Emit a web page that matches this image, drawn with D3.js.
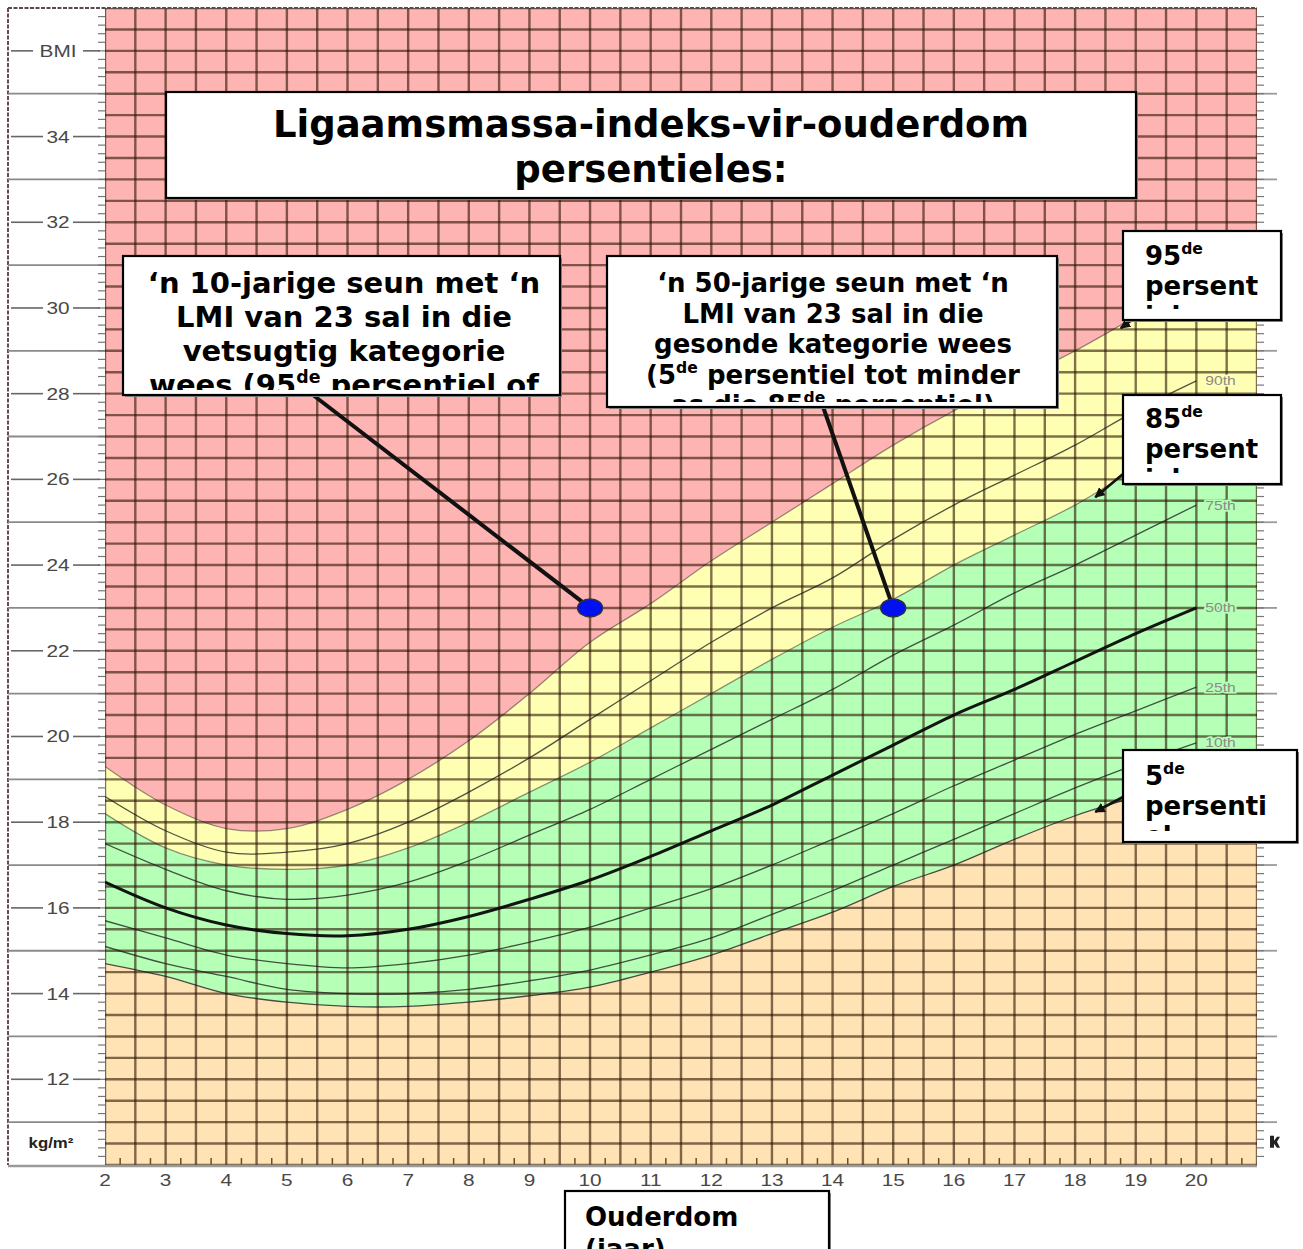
<!DOCTYPE html>
<html><head><meta charset="utf-8">
<script src="https://cdn.jsdelivr.net/npm/d3@7"></script>
<style>body{margin:0;background:#fff}svg{display:block}</style>
</head><body>
<svg id="c" width="1303" height="1249"></svg>
<script>
// ---- data (boys BMI-for-age percentiles) ----
const ages = [2,3,4,5,6,7,8,9,10,11,12,13,14,15,16,17,18,19,20];
const p5  = [14.7,14.4,14.0,13.8,13.7,13.7,13.8,13.95,14.15,14.5,14.9,15.4,15.9,16.5,17.0,17.6,18.15,18.6,19.1];
const p10 = [15.1,14.7,14.4,14.1,14.0,14.0,14.1,14.3,14.55,14.9,15.3,15.85,16.4,17.0,17.6,18.2,18.8,19.35,19.85];
const p25 = [15.7,15.3,14.9,14.7,14.6,14.7,14.9,15.2,15.55,16.0,16.45,17.0,17.6,18.2,18.85,19.45,20.05,20.6,21.15];
const p50 = [16.6,16.0,15.6,15.4,15.35,15.5,15.8,16.2,16.65,17.2,17.8,18.4,19.1,19.8,20.5,21.1,21.75,22.4,23.0];
const p75 = [17.5,16.9,16.4,16.2,16.3,16.6,17.1,17.7,18.3,19.0,19.7,20.4,21.1,21.9,22.6,23.35,24.0,24.7,25.4];
const p85 = [18.2,17.4,17.0,16.9,17.0,17.4,18.0,18.7,19.4,20.2,21.0,21.8,22.55,23.2,24.0,24.7,25.4,26.25,27.0];
const p90 = [18.6,17.8,17.3,17.3,17.5,18.0,18.7,19.5,20.4,21.3,22.2,23.0,23.7,24.6,25.4,26.1,26.8,27.6,28.3];
const p95 = [19.3,18.4,17.85,17.85,18.3,19.0,19.9,21.0,22.2,23.1,24.1,25.0,25.9,26.8,27.6,28.3,29.0,29.8,30.6];
const percentileNames = ["5th","10th","25th","50th","75th","85th","90th","95th"];
const visibleCurveLabels = ["10th","25th","50th","75th","90th"];
const ageTicks = [2,3,4,5,6,7,8,9,10,11,12,13,14,15,16,17,18,19,20];
const bmiTicks = [12,14,16,18,20,22,24,26,28,30,32,34];
const bmiOddLines = [11,13,15,17,19,21,23,25,27,29,31,33,35];
const examplePoints = [{age:10,bmi:23},{age:15,bmi:23}];
const titleLines = ["Ligaamsmassa-indeks-vir-ouderdom","persentieles:"];
const note1Lines = ["\u2018n 10-jarige seun met \u2018n","LMI van 23 sal in die","vetsugtig kategorie","wees (95^de^ persentiel of"];
const note2Lines = ["\u2018n 50-jarige seun met \u2018n","LMI van 23 sal in die","gesonde kategorie wees","(5^de^ persentiel tot minder","as die 85^de^ persentiel)"];
const label95 = ["95^de^","persent","iel"];
const label85 = ["85^de^","persent","iel"];
const label5  = ["5^de^","persenti","el"];
const xAxisTitle = ["Ouderdom","(jaar)"];

// ---- setup ----
const svg = d3.select("#c");
const x = d3.scaleLinear().domain([2,21]).range([105,1257]);
const y = d3.scaleLinear().domain([10,37]).range([1165,8]);
const defs = svg.append("defs");
defs.append("clipPath").attr("id","plotClip").append("rect")
  .attr("x",x(2)).attr("y",y(37)).attr("width",x(21)-x(2)).attr("height",y(10)-y(37));
defs.append("marker").attr("id","arr").attr("viewBox","0 0 10 10").attr("refX",9).attr("refY",5)
  .attr("markerWidth",4).attr("markerHeight",4).attr("orient","auto")
  .append("path").attr("d","M0,0L10,5L0,10z").attr("fill","#111");

const seriesVals = [p5,p10,p25,p50,p75,p85,p90,p95];
const series = percentileNames.map((n,i)=>({name:n, values:seriesVals[i]}));
function interp(vals, a){
  const i = Math.min(ages.length-2, Math.max(0, d3.bisectRight(ages,a)-1));
  const t = (a-ages[i])/(ages[i+1]-ages[i]);
  return vals[i]+(vals[i+1]-vals[i])*t;
}
const extAges = ages.concat([21]);
const ext = v => v.concat([v[v.length-1]]);
const curve = d3.curveCatmullRom.alpha(0.5);

const plot = svg.append("g").attr("clip-path","url(#plotClip)");
const C = {red:"#ffb4b4", yellow:"#ffffb4", green:"#b6ffb6", peach:"#ffe3b4"};
plot.append("rect").attr("x",x(2)).attr("y",y(37)).attr("width",x(21)-x(2)).attr("height",y(10)-y(37)).attr("fill",C.red);
function band(lo, hi, color){
  const data = extAges.map((a,i)=>({a, lo: lo ? ext(lo)[i] : 10, hi: ext(hi)[i]}));
  plot.append("path").datum(data).attr("fill",color)
    .attr("d", d3.area().curve(curve).x(d=>x(d.a)).y0(d=>y(d.lo)).y1(d=>y(d.hi)));
}
band(p85,p95,C.yellow);
band(p5,p85,C.green);
band(null,p5,C.peach);

// grid
const grid = plot.append("g").attr("stroke","#2a1200").attr("stroke-opacity",0.6).attr("stroke-width",2.4);
grid.selectAll("line.v").data(d3.range(2,21.01,0.5)).join("line")
  .attr("x1",d=>x(d)).attr("x2",d=>x(d)).attr("y1",y(37)).attr("y2",y(10));
grid.selectAll("line.h").data(d3.range(10,37.01,0.5)).join("line")
  .attr("x1",x(2)).attr("x2",x(21)).attr("y1",d=>y(d)).attr("y2",d=>y(d));
plot.append("g").attr("stroke","#6a5020").attr("stroke-width",1.5)
  .selectAll("line").data(d3.range(2.25,21,0.5)).join("line")
  .attr("x1",d=>x(d)).attr("x2",d=>x(d)).attr("y1",y(10)-7).attr("y2",y(10));

// percentile lines
const line = d3.line().curve(curve).x((d,i)=>x(ages[i])).y(d=>y(d));
series.forEach(s=>{
  const main = s.name==="50th", soft = (s.name==="95th"||s.name==="85th");
  plot.append("path").datum(s.values).attr("fill","none")
    .attr("stroke", main? "#0a0a0a" : "#1a1a1a")
    .attr("stroke-opacity", main?0.95:(soft?0.45:0.75))
    .attr("stroke-width", main?3:1.3)
    .attr("d", line);
});
// percentile labels (the 95th, 85th and 5th labels are covered by the callouts)
const lab = svg.append("g").attr("font-family","Liberation Sans, Arial, sans-serif").attr("font-size",12.5).attr("fill","#8a8a8a");
series.filter(s=>visibleCurveLabels.includes(s.name)).forEach(s=>{
  const v = s.values[s.values.length-1];
  const bg = s.name==="90th" ? C.yellow : C.green;
  lab.append("text").attr("transform",`translate(${x(20)+9},${y(v)+4.5}) scale(1.25,1)`)
    .attr("paint-order","stroke").attr("stroke",bg).attr("stroke-width",3).text(s.name);
});

// ---- frame & margins ----
const frame = svg.append("g");
frame.append("line").attr("x1",8).attr("x2",x(21)).attr("y1",y(37)).attr("y2",y(37)).attr("stroke","#5a4a4a").attr("stroke-width",2).attr("stroke-dasharray","4,1.5");
frame.append("line").attr("x1",8).attr("x2",8).attr("y1",y(37)).attr("y2",y(10)).attr("stroke","#6a4a4a").attr("stroke-width",2).attr("stroke-dasharray","4,1.5");
frame.append("line").attr("x1",8).attr("x2",x(21)).attr("y1",y(10)+1).attr("y2",y(10)+1).attr("stroke","#9a9a9a").attr("stroke-width",2.5);
frame.selectAll("line.odd").data(bmiOddLines).join("line").attr("class","odd")
  .attr("x1",8).attr("x2",x(2)).attr("y1",d=>y(d)).attr("y2",d=>y(d)).attr("stroke","#8a8a8a").attr("stroke-width",1.8);
frame.selectAll("line.oddr").data(bmiOddLines).join("line").attr("class","oddr")
  .attr("x1",x(21)).attr("x2",x(21)+20).attr("y1",d=>y(d)).attr("y2",d=>y(d)).attr("stroke","#9a9a9a").attr("stroke-width",1.8);
const minor = d3.range(10.2,37,0.2);
frame.append("g").attr("stroke","#777").attr("stroke-width",1.2).selectAll("line").data(minor).join("line")
  .attr("x1",x(2)-7).attr("x2",x(2)).attr("y1",d=>y(d)).attr("y2",d=>y(d));
frame.append("g").attr("stroke","#777").attr("stroke-width",1.2).selectAll("line").data(minor).join("line")
  .attr("x1",x(21)).attr("x2",x(21)+7).attr("y1",d=>y(d)).attr("y2",d=>y(d));
const yl = frame.append("g");
const yLabelData = bmiTicks.map(v=>({v, t:String(v)})).concat([{v:36,t:"BMI"}]);
yl.selectAll("g").data(yLabelData).join("g").each(function(d){
  const g = d3.select(this);
  const w = d.t.length>2 ? 25 : 15;
  g.append("line").attr("x1",11).attr("x2",58-w).attr("y1",y(d.v)).attr("y2",y(d.v)).attr("stroke","#666").attr("stroke-width",1.6);
  g.append("line").attr("x1",58+w).attr("x2",100).attr("y1",y(d.v)).attr("y2",y(d.v)).attr("stroke","#666").attr("stroke-width",1.6);
  g.append("text").attr("transform",`translate(58,${y(d.v)+6}) scale(1.3,1)`).attr("text-anchor","middle")
    .attr("font-family","Liberation Sans, Arial, sans-serif").attr("font-size",16).attr("fill","#484848").text(d.t);
});
frame.append("text").attr("transform",`translate(51,${y(10.4)}) scale(1.2,1)`).attr("text-anchor","middle")
  .attr("font-family","Liberation Sans, Arial, sans-serif").attr("font-weight","bold").attr("font-size",14).attr("fill","#222").text("kg/m\u00b2");
frame.append("path").attr("d",`M1270,${y(10.4)-12}h4v5l3,-4h3l-3,5l3,6h-3l-3,-4v4h-4z`).attr("fill","#222");
frame.selectAll("text.xl").data(ageTicks).join("text").attr("class","xl")
  .attr("transform",d=>`translate(${x(d)},${y(10)+21}) scale(1.3,1)`).attr("text-anchor","middle")
  .attr("font-family","Liberation Sans, Arial, sans-serif").attr("font-size",16).attr("fill","#484848").text(d=>d);

// ---- annotations ----
const ann = svg.append("g").attr("font-family","DejaVu Sans, sans-serif").attr("font-weight","bold").attr("fill","#000");
let clipN = 0;
function rich(g, str, tx, ty, fs, anchor){
  const t = g.append("text").attr("x",tx).attr("y",ty).attr("font-size",fs).attr("text-anchor",anchor);
  const parts = str.split("^");
  let shifted = false;
  parts.forEach((p,i)=>{
    if(!p) return;
    const sp = t.append("tspan").text(p);
    if(i%2===1){ sp.attr("font-size",fs*0.6).attr("dy",-fs*0.42); shifted=true; }
    else if(shifted){ sp.attr("dy",fs*0.42); shifted=false; }
  });
  return t;
}
function box(bx,by,bw,bh,lines,fs,lh,firstBase,anchor,tx,inset){
  const g = ann.append("g");
  g.append("rect").attr("x",bx+2).attr("y",by+2).attr("width",bw).attr("height",bh).attr("fill","#888");
  g.append("rect").attr("x",bx).attr("y",by).attr("width",bw).attr("height",bh).attr("fill","#fff").attr("stroke","#000").attr("stroke-width",2.2);
  const id = "tc"+(clipN++);
  defs.append("clipPath").attr("id",id).append("rect").attr("x",bx+2).attr("y",by+2).attr("width",bw-4).attr("height",bh-4-(inset||0));
  const tg = g.append("g").attr("clip-path",`url(#${id})`);
  lines.forEach((l,i)=>rich(tg,l,tx,firstBase+i*lh,fs,anchor));
}
function leader(x1,y1,x2,y2,w,arrow){
  const l = ann.append("line").attr("x1",x1).attr("y1",y1).attr("x2",x2).attr("y2",y2).attr("stroke","#111").attr("stroke-width",w);
  if(arrow) l.attr("marker-end","url(#arr)");
}
leader(300,385,x(examplePoints[0].age),y(examplePoints[0].bmi),4);
leader(820,398,x(examplePoints[1].age),y(examplePoints[1].bmi),4);
ann.selectAll("ellipse").data(examplePoints).join("ellipse")
  .attr("cx",d=>x(d.age)).attr("cy",d=>y(d.bmi)).attr("rx",12.5).attr("ry",9)
  .attr("fill","#0010f0").attr("stroke","#333").attr("stroke-width",1.4);
leader(1140,314,x(18.72)+2,y(interp(p95,18.72))+2,2.6,true);
leader(1123,474,x(18.3)+2,y(interp(p85,18.3))+3,2.6,true);
leader(1123,797,x(18.3)+2,y(interp(p5,18.3))+2,2.6,true);

box(166,92,970,106,titleLines,37,45,137,"middle",651);
box(123,256,437,139,note1Lines,29,34,293,"middle",344,3);
box(607,256,450,151,note2Lines,26,30.5,292,"middle",833,3);
box(1123,231,158,89,label95,26,30,265,"start",1145,9);
box(1123,395,158,89,label85,26,30,428,"start",1145,9);
box(1123,750,174,92,label5,26,30,785,"start",1145,9);
box(565,1191,264,90,xAxisTitle,26,32,1226,"start",585);
</script>
</body></html>
